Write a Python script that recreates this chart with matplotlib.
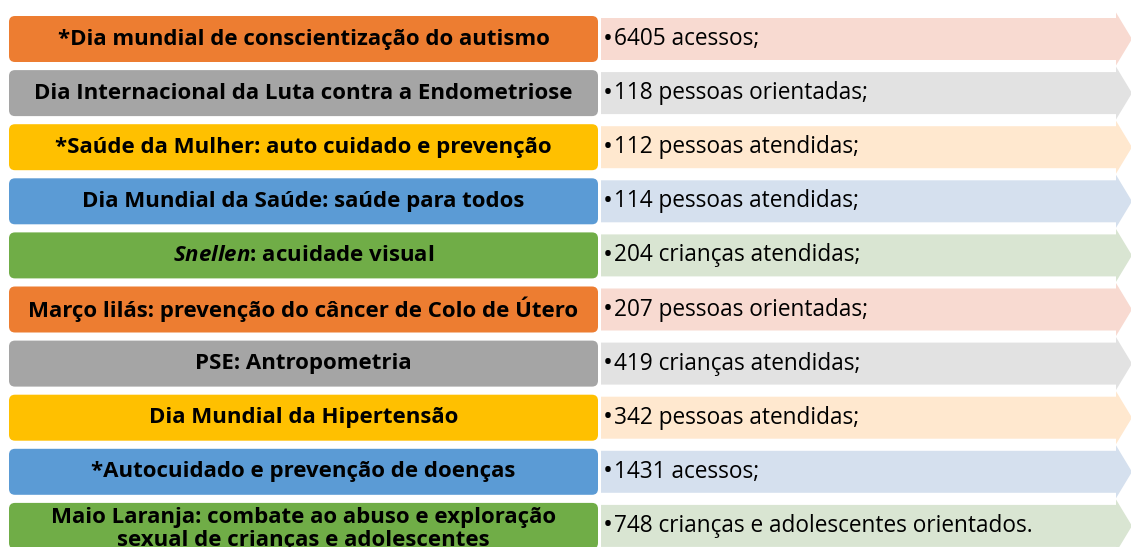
import matplotlib.pyplot as plt
from matplotlib.patches import FancyBboxPatch, Polygon

# Data
themes = ['*Dia mundial de conscientização do autismo',
          'Dia Internacional da Luta contra a Endometriose',
          '*Saúde da Mulher: auto cuidado e prevenção',
          'Dia Mundial da Saúde: saúde para todos',
          r'$\it{Snellen}$: acuidade visual',
          'Março lilás: prevenção do câncer de Colo de Útero',
          'PSE: Antropometria',
          'Dia Mundial da Hipertensão',
          '*Autocuidado e prevenção de doenças',
          'Maio Laranja: combate ao abuso e exploração\nsexual de crianças e adolescentes']
results = ['6405 acessos;',
           '118 pessoas orientadas;',
           '112 pessoas atendidas;',
           '114 pessoas atendidas;',
           '204 crianças atendidas;',
           '207 pessoas orientadas;',
           '419 crianças atendidas;',
           '342 pessoas atendidas;',
           '1431 acessos;',
           '748 crianças e adolescentes orientados.']
box_colors = ['#ED7D31', '#A5A5A5', '#FFC000', '#5B9BD5', '#70AD47']
arrow_colors = ['#F8DAD1', '#E2E2E2', '#FFE8CF', '#D5E0EE', '#D9E5D2']

plt.rcParams['font.family'] = ['Open Sans', 'DejaVu Sans']
plt.rcParams['mathtext.fontset'] = 'custom'
plt.rcParams['mathtext.it'] = 'Open Sans:bold:italic'
plt.rcParams['mathtext.rm'] = 'Open Sans:bold'

W, H = 1131, 547
fig = plt.figure(figsize=(W / 100, H / 100), dpi=100)
ax = fig.add_axes([0, 0, 1, 1])
ax.set_xlim(0, W)
ax.set_ylim(H, 0)
ax.axis('off')

pitch = 54.1
top = 16
bh = 46
for i, (theme, res) in enumerate(zip(themes, results)):
    c = top + bh / 2 + i * pitch
    col = box_colors[i % 5]
    light = arrow_colors[i % 5]
    # arrow on the right
    pts = [(601, c - 21), (1116, c - 21), (1116, c - 26.5), (1132, c),
           (1116, c + 26.5), (1116, c + 21), (601, c + 21)]
    ax.add_patch(Polygon(pts, closed=True, facecolor=light, edgecolor='none'))
    # coloured box on the left
    ax.add_patch(FancyBboxPatch((9, c - bh / 2), 589, bh,
                                boxstyle='round,pad=0,rounding_size=6',
                                facecolor=col, edgecolor='none'))
    ty = c if '\n' not in theme else c + 3
    ax.text(303.5, ty, theme, ha='center', va='center', fontsize=16,
            fontweight='bold', color='black', linespacing=1.1)
    ax.text(603, c, '\u2022', ha='left', va='center', fontsize=19,
            color='black')
    ax.text(614, c, res, ha='left', va='center', fontsize=16.3,
            color='black')

fig.savefig('out.png', dpi=100)
